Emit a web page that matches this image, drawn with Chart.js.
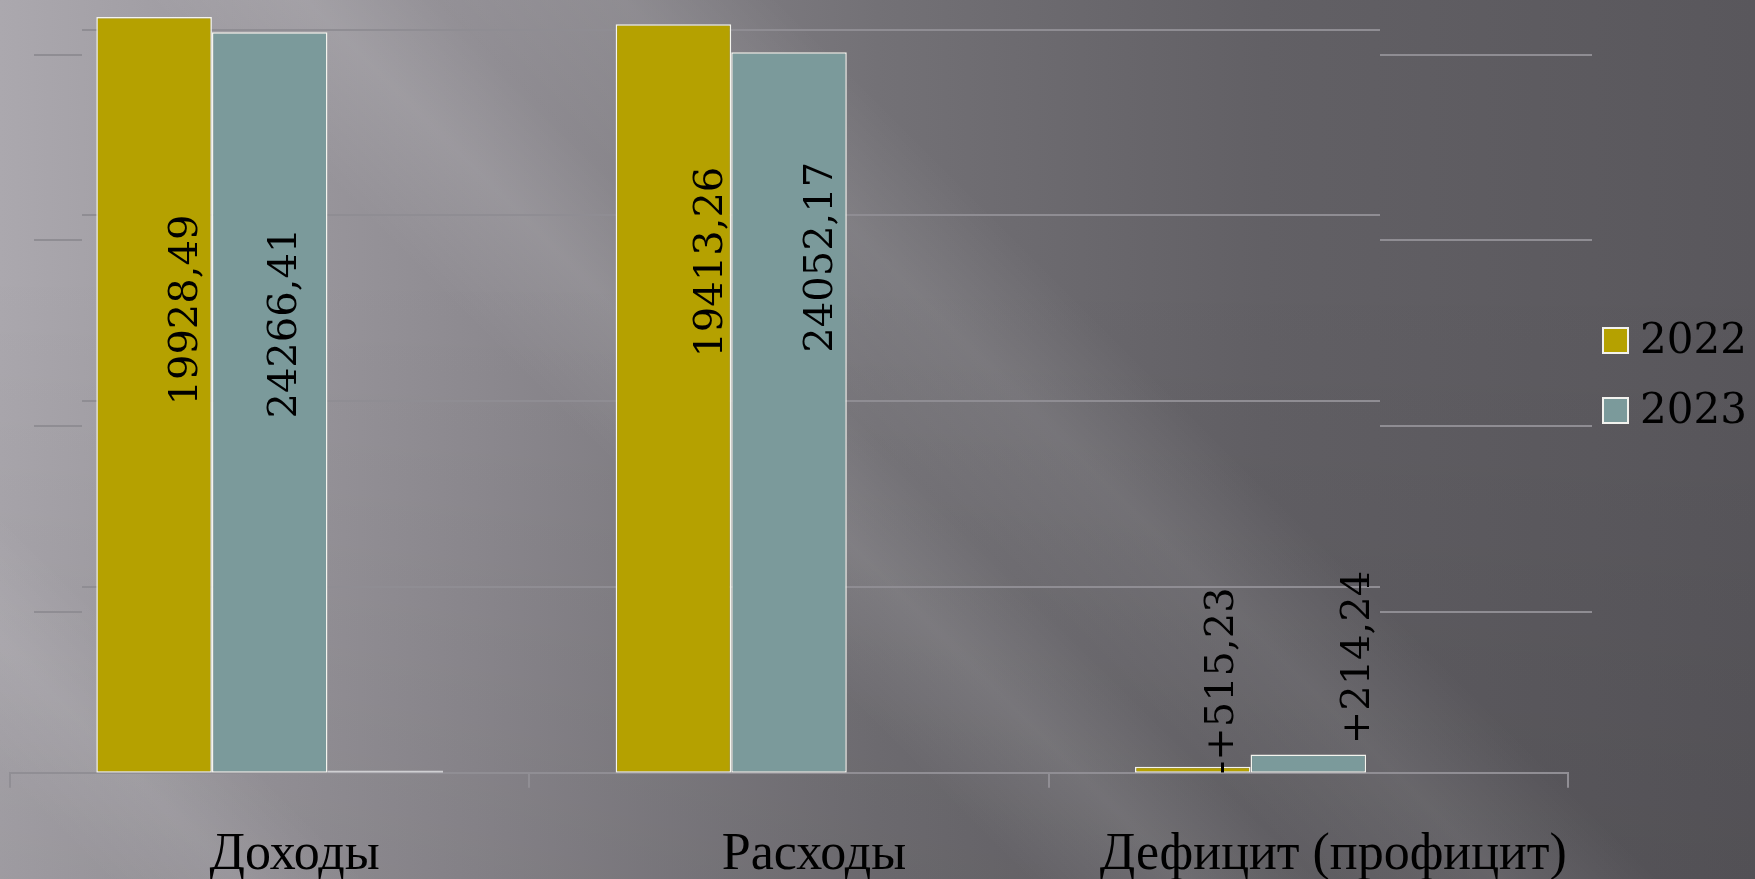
<!DOCTYPE html>
<html lang="ru">
<head>
<meta charset="utf-8">
<title>Доходы, расходы, дефицит</title>
<script src="https://cdn.jsdelivr.net/npm/chart.js@4.4.1/dist/chart.umd.min.js"></script>
<style>
  html, body { margin: 0; padding: 0; width: 1755px; height: 879px; overflow: hidden; }
  body {
    background:
      linear-gradient(45deg, rgba(255,255,255,0) 4%, rgba(255,255,255,0.08) 9%, rgba(255,255,255,0) 14%,
                      rgba(255,255,255,0) 39%, rgba(255,255,255,0.11) 45%, rgba(255,255,255,0.03) 50%,
                      rgba(255,255,255,0.09) 57%, rgba(255,255,255,0) 63%),
      linear-gradient(to bottom, rgba(0,0,0,0) 30%, rgba(0,0,0,0.08) 100%),
      linear-gradient(to right, #aba8ae 0%, #8d8a90 28%, #737176 50%, #626065 72%, #59575c 100%);
  }
  #wrap { position: relative; width: 1755px; height: 923px; }
</style>
</head>
<body>
<div id="wrap"><canvas id="budget-chart"></canvas></div>
<script>
// Values as drawn in the picture (bar heights), plus the printed labels
const categories = ['Доходы', 'Расходы', 'Дефицит (профицит)'];
const seriesNames = ['2022', '2023'];
const bars2022 = [20340, 20150, 160];
const bars2023 = [19935, 19395, 490];
const barsEmpty = [55, 0, 0];
const labels2022 = ['19928,49', '19413,26', '-+515,23'];
const labels2023 = ['24266,41', '24052,17', '+214,24'];
const gridValues = [5000, 10000, 15000, 20000];
const yMax = 20800;

const colors = ['#b5a100', '#7b9a9b'];

// label nudges in px, relative to bar centre / bar top
const labelNudge = [
    { dx: [43, 49, 40], dy: [293, 238, -86] },
    { dx: [26, 43, 61], dy: [291, 205, -97] }
];

// gridlines drawn like the 3D back wall + side wall
const wallGrid = {
    id: 'wallGrid',
    beforeDatasetsDraw(chart) {
        const ctx = chart.ctx;
        const y = chart.scales.y;
        ctx.save();
        ctx.strokeStyle = '#8f8d93';
        ctx.lineWidth = 2;
        gridValues.forEach(v => {
            const py = Math.round(y.getPixelForValue(v));
            ctx.beginPath();
            ctx.moveTo(82, py);
            ctx.lineTo(1380, py);
            ctx.moveTo(34, py + 25);
            ctx.lineTo(82, py + 25);
            ctx.moveTo(1380, py + 25);
            ctx.lineTo(1592, py + 25);
            ctx.stroke();
        });
        ctx.restore();
    }
};

const barLabels = {
    id: 'barLabels',
    afterDatasetsDraw(chart) {
        const ctx = chart.ctx;
        const texts = [labels2022, labels2023];
        ctx.save();
        ctx.fillStyle = '#000';
        ctx.font = '40px "DejaVu Serif"';
        ctx.textAlign = 'center';
        ctx.textBaseline = 'alphabetic';
        texts.forEach((list, d) => {
            const meta = chart.getDatasetMeta(d);
            meta.data.forEach((bar, i) => {
                ctx.save();
                ctx.translate(bar.x + labelNudge[d].dx[i], bar.y + labelNudge[d].dy[i]);
                ctx.rotate(-Math.PI / 2);
                ctx.fillText(list[i], 0, 0);
                ctx.restore();
            });
        });
        ctx.restore();
    }
};

const sideLegend = {
    id: 'sideLegend',
    afterDraw(chart) {
        const ctx = chart.ctx;
        ctx.save();
        ctx.font = '42px "DejaVu Serif"';
        ctx.textBaseline = 'alphabetic';
        ctx.textAlign = 'left';
        seriesNames.forEach((name, i) => {
            const top = 328 + i * 70;
            ctx.fillStyle = chart.data.datasets[i].backgroundColor;
            ctx.fillRect(1603, top, 25, 25);
            ctx.strokeStyle = '#f2f2ee';
            ctx.lineWidth = 2;
            ctx.strokeRect(1603, top, 25, 25);
            ctx.fillStyle = '#000';
            ctx.fillText(name, 1640, top + 25);
        });
        ctx.restore();
    }
};

new Chart(document.getElementById('budget-chart'), {
    type: 'bar',
    data: {
        labels: categories,
        datasets: [
            {
                label: seriesNames[0],
                data: bars2022,
                backgroundColor: colors[0],
                borderColor: '#f4f4ee',
                borderWidth: 1.5,
                borderSkipped: false
            },
            {
                label: seriesNames[1],
                data: bars2023,
                backgroundColor: colors[1],
                borderColor: '#f4f4ee',
                borderWidth: 1.5,
                borderSkipped: false
            },
            {
                label: '',
                data: barsEmpty,
                backgroundColor: '#cfcfd2',
                borderWidth: 0
            }
        ]
    },
    options: {
        responsive: true,
        maintainAspectRatio: false,
        animation: false,
        layout: { padding: { left: 10, right: 187, top: 0, bottom: 0 } },
        datasets: {
            bar: { categoryPercentage: 0.6676, barPercentage: 1 }
        },
        plugins: {
            legend: { display: false },
            tooltip: { enabled: false }
        },
        scales: {
            y: {
                display: false,
                min: 0,
                max: yMax
            },
            x: {
                grid: {
                    offset: true,
                    drawOnChartArea: false,
                    drawTicks: true,
                    tickLength: 15,
                    color: '#908e94',
                    lineWidth: 2
                },
                border: { display: true, color: '#908e94', width: 2 },
                ticks: {
                    color: '#000',
                    font: { family: '"Liberation Serif"', size: 52 },
                    padding: 36.4,
                    labelOffset: 25
                }
            }
        }
    },
    plugins: [wallGrid, barLabels, sideLegend]
});
</script>
</body>
</html>
